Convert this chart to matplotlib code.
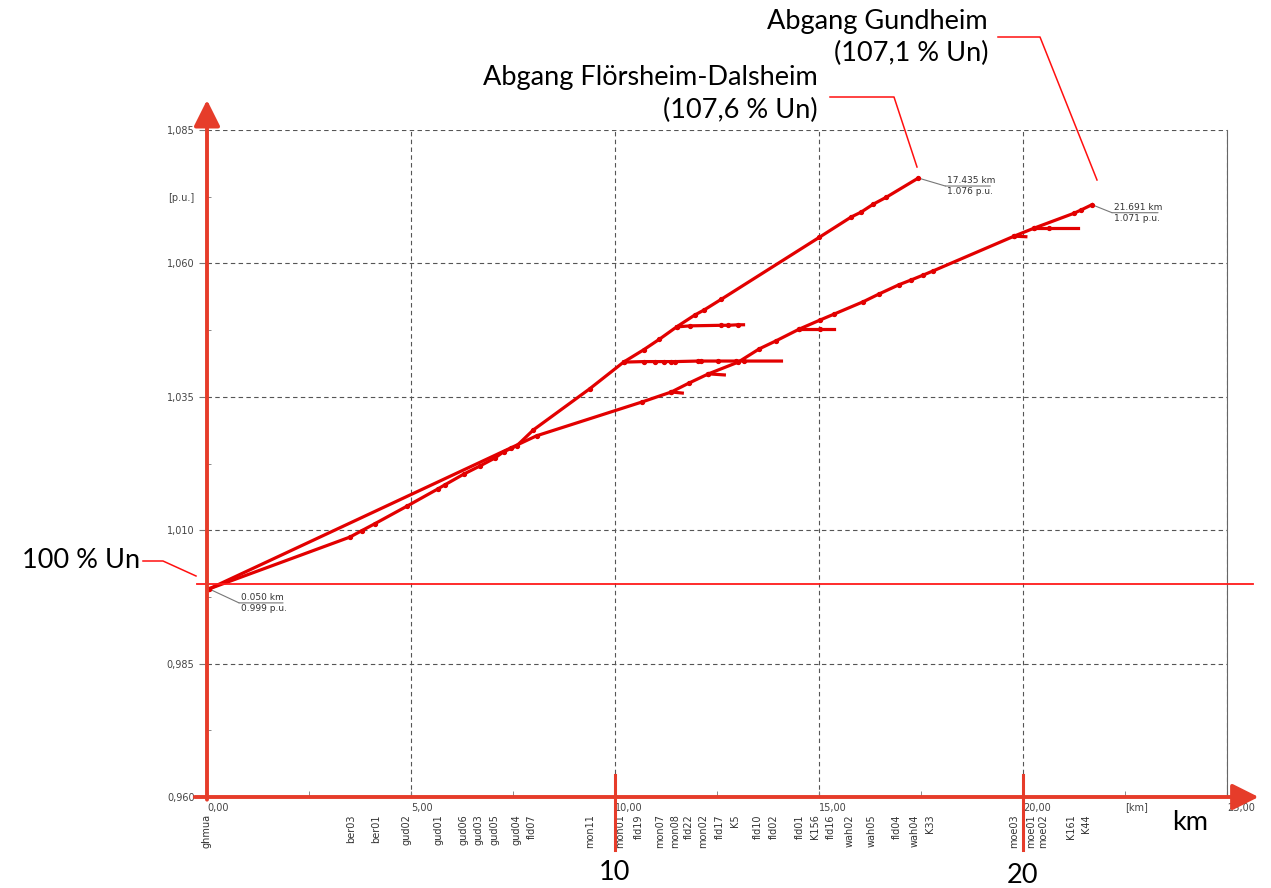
import matplotlib
matplotlib.use('Agg')
import matplotlib.pyplot as plt
import matplotlib.transforms as mtransforms
from matplotlib.lines import Line2D

# --- data: voltage profile along the feeders (km, p.u.) ---
# Abgang Flörsheim-Dalsheim
fd_km = [0.05, 3.50, 3.79, 4.11, 4.90, 5.65, 5.83, 6.29, 6.68, 7.05, 7.27, 7.59,
         8.00, 9.38, 10.21, 10.70, 11.09, 11.51, 11.95, 12.19, 12.61, 15.01,
         15.79, 16.03, 16.33, 16.65, 17.435]
fd_pu = [0.999, 1.0087, 1.0099, 1.0112, 1.0145, 1.0177, 1.0185, 1.0205, 1.0220,
         1.0235, 1.0247, 1.0258, 1.0288, 1.0365, 1.0415, 1.0438, 1.0458, 1.0481,
         1.0503, 1.0513, 1.0533, 1.0649, 1.0687, 1.0696, 1.0711, 1.0724, 1.076]

# Abgang Gundheim
gh_km = [0.05, 7.44, 8.08, 10.65, 11.38, 11.82, 12.29, 13.02, 13.54, 13.95, 14.52,
         15.03, 15.37, 16.08, 16.48, 16.96, 17.26, 17.55, 17.80, 19.78, 20.27,
         21.25, 21.42, 21.691]
gh_pu = [0.999, 1.0254, 1.0277, 1.0340, 1.0359, 1.0376, 1.0393, 1.0415, 1.0440,
         1.0455, 1.0477, 1.0494, 1.0505, 1.0528, 1.0543, 1.0560, 1.0569, 1.0578,
         1.0586, 1.0651, 1.0666, 1.0694, 1.0700, 1.071]

# side branches
br_mon01_km = [10.21, 10.72, 10.97, 11.21, 11.38, 11.48, 12.04, 12.12, 12.53, 12.97, 13.17, 14.08]
br_mon01_pu = [1.0415, 1.0416, 1.0416, 1.0416, 1.0416, 1.0416, 1.0417, 1.0417, 1.0417, 1.0417, 1.0417, 1.0417]
br_mon08_km = [11.51, 11.85, 12.61, 12.78, 13.02, 13.15]
br_mon08_pu = [1.0481, 1.0483, 1.0484, 1.0484, 1.0485, 1.0485]
br_fld19_km = [11.38, 11.65]
br_fld19_pu = [1.0359, 1.0357]
br_mon02_km = [12.29, 12.68]
br_mon02_pu = [1.0393, 1.0391]
br_fld01_km = [14.52, 15.03, 15.37]
br_fld01_pu = [1.0477, 1.0477, 1.0477]
br_moe03_km = [19.78, 20.07]
br_moe03_pu = [1.0651, 1.0650]
br_moe01_km = [20.27, 20.64, 21.35]
br_moe01_pu = [1.0666, 1.0666, 1.0666]

# station names along the x axis
stations = ['ghmua', 'ber03', 'ber01', 'gud02', 'gud01', 'gud06', 'gud03', 'gud05',
            'gud04', 'fld07', 'mon11', 'mon01', 'fld19', 'mon07', 'mon08', 'fld22',
            'mon02', 'fld17', 'K5', 'fld10', 'fld02', 'fld01', 'K156', 'fld16',
            'wah02', 'wah05', 'fld04', 'wah04', 'K33', 'moe03', 'moe01', 'moe02',
            'K161', 'K44']
station_km = [0.0, 3.53, 4.14, 4.90, 5.68, 6.29, 6.66, 7.05, 7.59, 7.96, 9.38,
              10.13, 10.59, 11.11, 11.47, 11.82, 12.15, 12.57, 12.93, 13.51, 13.90,
              14.54, 14.90, 15.29, 15.76, 16.29, 16.91, 17.35, 17.72, 19.78, 20.19,
              20.50, 21.17, 21.55]

x_ticks = [0, 5, 10, 15, 20, 25]
x_labels = ['0,00', '5,00', '10,00', '15,00', '20,00', '25,00']
y_ticks = [0.960, 0.985, 1.010, 1.035, 1.060, 1.085]
y_labels = ['0,960', '0,985', '1,010', '1,035', '1,060', '1,085']

LINE_RED = '#e20000'
AXIS_RED = '#e63c2a'
W, H = 1271, 888

fig = plt.figure(figsize=(W / 100, H / 100), dpi=100)
ax = fig.add_axes([207 / W, 1 - 797 / H, 1020 / W, 667 / H])
ax.set_xlim(0, 25)
ax.set_ylim(0.960, 1.085)

ax.set_xticks(x_ticks, x_labels)
ax.set_yticks(y_ticks, y_labels)
ax.set_xticks([2.5, 7.5, 12.5, 17.5, 22.5], ['', '', '', '', '[km]'], minor=True)
ax.set_yticks([0.9725, 0.9975, 1.0225, 1.0475, 1.0725], ['', '', '', '', '[p.u.]'], minor=True)
for lbl in ax.get_xticklabels() + ax.get_xticklabels(minor=True):
    lbl.set_ha('left')
ax.tick_params(axis='x', which='both', direction='in', length=4, color='#777',
               labelsize=7, labelcolor='#444', pad=4)
ax.tick_params(axis='y', which='major', direction='out', length=6, color='#777',
               labelsize=7, labelcolor='#444', pad=3)
ax.tick_params(axis='y', which='minor', direction='in', length=3, color='#777',
               labelsize=7, labelcolor='#444', pad=9)
ax.grid(True, which='major', color='#555', lw=0.8, ls=(0, (4, 3)))
for s in ['top', 'left', 'bottom']:
    ax.spines[s].set_visible(False)
ax.spines['right'].set_color('#666')
ax.spines['right'].set_linewidth(0.8)

# feeders
style = dict(color=LINE_RED, lw=2.3, marker='o', ms=2.8, zorder=4)
ax.plot(fd_km, fd_pu, **style)
ax.plot(gh_km, gh_pu, **style)
for bk, bp in [(br_mon01_km, br_mon01_pu), (br_mon08_km, br_mon08_pu),
               (br_fld19_km, br_fld19_pu), (br_mon02_km, br_mon02_pu),
               (br_fld01_km, br_fld01_pu), (br_moe03_km, br_moe03_pu),
               (br_moe01_km, br_moe01_pu)]:
    ax.plot(bk, bp, markevery=list(range(len(bk) - 1)), **style)

# station names
tr_x = mtransforms.blended_transform_factory(ax.transData, ax.transAxes)
for name, km in zip(stations, station_km):
    ax.text(km, -0.026, name, transform=tr_x, rotation=90, ha='center', va='top',
            fontsize=7, color='#333')

# 100 % line
tr_y = mtransforms.blended_transform_factory(ax.transAxes, ax.transData)
ax.plot([-0.0098, 1.025], [1.0, 1.0], transform=tr_y, color='#ff1a1a', lw=1.3,
        clip_on=False, zorder=5)

# red axes with arrows
arrow = dict(arrowstyle='-|>,head_length=0.8,head_width=0.4', color=AXIS_RED, lw=2.8,
             shrinkA=0, shrinkB=0, mutation_scale=20)
ax.annotate('', xy=(1.031, 0), xycoords='axes fraction', xytext=(-0.012, 0),
            arrowprops=arrow, zorder=6, annotation_clip=False)
ax.annotate('', xy=(0, 1.045), xycoords='axes fraction', xytext=(0, -0.004),
            arrowprops=arrow, zorder=6, annotation_clip=False)
for km in [10, 20]:
    ax.plot([km, km], [0.033, -0.079], transform=tr_x, color=AXIS_RED, lw=2.2,
            clip_on=False, zorder=6)


# end point labels
def offset(dx, dy):
    return ax.transData + mtransforms.ScaledTranslation(dx / 100, -dy / 100, fig.dpi_scale_trans)


def end_label(x, y, dx, dy, ln, top, bottom):
    line = dict(arrowstyle='-', color='#777', lw=0.8, shrinkA=0, shrinkB=0)
    ax.annotate('', xy=(x, y), xytext=(x, y), textcoords=offset(dx, dy), arrowprops=line)
    ax.annotate('', xy=(x, y), xycoords=offset(dx + ln, dy), xytext=(x, y),
                textcoords=offset(dx, dy), arrowprops=line)
    ax.text(x, y, top, transform=offset(dx + 2, dy - 1), ha='left', va='bottom',
            fontsize=6.5, color='#333')
    ax.text(x, y, bottom, transform=offset(dx + 2, dy + 1), ha='left', va='top',
            fontsize=6.5, color='#333')


end_label(fd_km[-1], fd_pu[-1], 27, 8, 45, '17.435 km', '1.076 p.u.')
end_label(gh_km[-1], gh_pu[-1], 20, 8, 46, '21.691 km', '1.071 p.u.')
end_label(fd_km[0], fd_pu[0], 30, 14, 44, '0.050 km', '0.999 p.u.')

# big annotations
big = dict(fontsize=19.5, family=['Lato', 'DejaVu Sans'], color='black')
fig.text(988 / W, 1 - 21 / H, 'Abgang Gundheim', ha='right', va='center', **big)
fig.text(988 / W, 1 - 53 / H, '(107,1 % Un)', ha='right', va='center', **big)
fig.text(818 / W, 1 - 77 / H, 'Abgang Flörsheim-Dalsheim', ha='right', va='center', **big)
fig.text(818 / W, 1 - 110 / H, '(107,6 % Un)', ha='right', va='center', **big)
fig.text(22 / W, 1 - 560 / H, '100 % Un', ha='left', va='center', **big)
fig.text(1190 / W, 1 - 822 / H, 'km', ha='center', va='center', **big)
fig.text(614 / W, 1 - 872 / H, '10', ha='center', va='center', **big)
fig.text(1022 / W, 1 - 875 / H, '20', ha='center', va='center', **big)


def leader(xs, ys):
    fig.add_artist(Line2D([x / W for x in xs], [1 - y / H for y in ys],
                          color='#ff1010', lw=1.1))


leader([998, 1040, 1097], [37, 37, 180])
leader([830, 894, 917], [97, 97, 167])
leader([143, 163, 196], [561, 561, 576])

fig.savefig('out.png', dpi=100, facecolor='white')
